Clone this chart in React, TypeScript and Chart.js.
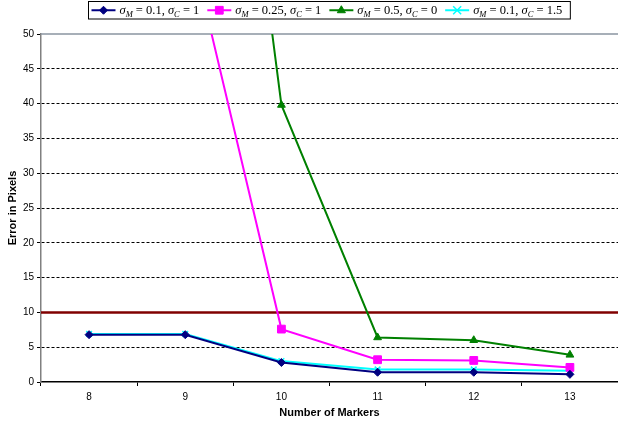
import React, { useEffect, useRef } from "react";
import { Chart, registerables } from "chart.js";

Chart.register(...registerables);

// ---- data ----
const markerCounts = ["8", "9", "10", "11", "12", "13"];
const errM01C1 = [6.8, 6.8, 2.8, 1.4, 1.4, 1.1];
const errM025C1 = [110, 66, 7.6, 3.2, 3.1, 2.1];
const errM05C0 = [230, 147, 39.8, 6.4, 6.0, 3.9];
const errM01C15 = [6.9, 6.9, 3.0, 1.8, 1.8, 1.6];
const sigmaM = [0.1, 0.25, 0.5, 0.1];
const sigmaC = [1, 1, 0, 1.5];
const threshold = 10;
const yMin = 0;
const yMax = 50;
const yStep = 5;

const colors = ["#000080", "#FF00FF", "#008000", "#00FFFF"];
const styles = ["rectRot", "rect", "triangle", "crossRot"];
const radii = [4, 5.5, 4.5, 4];

type Seg = [string, "i" | "s" | "n"];
const legendSegs = (i: number): Seg[] => [
  ["σ", "i"],
  ["M", "s"],
  [" = " + sigmaM[i] + ", ", "n"],
  ["σ", "i"],
  ["C", "s"],
  [" = " + sigmaC[i], "n"],
];

const SERIF = "'Liberation Serif', 'Times New Roman', serif";
const fontFor = (k: string) =>
  k === "i" ? `italic 12.5px ${SERIF}` : k === "s" ? `italic 8.5px ${SERIF}` : `12.5px ${SERIF}`;

function drawMarker(ctx: CanvasRenderingContext2D, style: string, x: number, y: number, r: number, color: string) {
  ctx.save();
  ctx.fillStyle = color;
  ctx.strokeStyle = color;
  ctx.lineWidth = 1;
  ctx.beginPath();
  if (style === "rectRot") {
    ctx.moveTo(x, y - r);
    ctx.lineTo(x + r, y);
    ctx.lineTo(x, y + r);
    ctx.lineTo(x - r, y);
    ctx.closePath();
    ctx.fill();
    ctx.stroke();
  } else if (style === "rect") {
    const s = r * Math.SQRT1_2;
    ctx.rect(x - s, y - s, 2 * s, 2 * s);
    ctx.fill();
    ctx.stroke();
  } else if (style === "triangle") {
    ctx.moveTo(x, y - r);
    ctx.lineTo(x + r * 0.9, y + r * 0.55);
    ctx.lineTo(x - r * 0.9, y + r * 0.55);
    ctx.closePath();
    ctx.fill();
    ctx.stroke();
  } else {
    ctx.lineWidth = 1.5;
    ctx.moveTo(x - r, y - r);
    ctx.lineTo(x + r, y + r);
    ctx.moveTo(x + r, y - r);
    ctx.lineTo(x - r, y + r);
    ctx.stroke();
  }
  ctx.restore();
}

const refLinesPlugin = {
  id: "refLines",
  beforeDatasetsDraw(chart: any) {
    const { ctx, chartArea } = chart;
    const y = chart.scales.y;
    ctx.save();
    const yTop = y.getPixelForValue(yMax);
    ctx.strokeStyle = "#8a94a0";
    ctx.lineWidth = 1.5;
    ctx.beginPath();
    ctx.moveTo(chartArea.left, yTop);
    ctx.lineTo(chartArea.right, yTop);
    ctx.stroke();
    const yT = y.getPixelForValue(threshold);
    ctx.strokeStyle = "#800000";
    ctx.lineWidth = 2.5;
    ctx.beginPath();
    ctx.moveTo(chartArea.left, yT);
    ctx.lineTo(chartArea.right, yT);
    ctx.stroke();
    ctx.restore();
  },
};

const legendPlugin = {
  id: "mathLegend",
  afterDraw(chart: any) {
    const { ctx, chartArea } = chart;
    ctx.save();
    const n = chart.data.datasets.length;
    const segWidths: number[][] = [];
    const textW: number[] = [];
    for (let i = 0; i < n; i++) {
      const ws: number[] = [];
      let t = 0;
      for (const [s, k] of legendSegs(i)) {
        ctx.font = fontFor(k);
        const w = ctx.measureText(s).width;
        ws.push(w);
        t += w;
      }
      segWidths.push(ws);
      textW.push(t);
    }
    const sampleW = 24, gapST = 4, gapItems = 8, padL = 3, padR = 8;
    let total = padL + padR + gapItems * (n - 1);
    for (let i = 0; i < n; i++) total += sampleW + gapST + textW[i];
    const cx = (chartArea.left + chartArea.right) / 2;
    const boxX = Math.round(cx - total / 2) - 0.5;
    const boxY = 1.5;
    const boxH = 17.5;
    ctx.fillStyle = "#ffffff";
    ctx.fillRect(boxX, boxY, total, boxH);
    ctx.strokeStyle = "#000000";
    ctx.lineWidth = 1;
    ctx.strokeRect(boxX, boxY, total, boxH);
    const midY = boxY + boxH / 2;
    let x = boxX + padL;
    for (let i = 0; i < n; i++) {
      const c = colors[i];
      ctx.strokeStyle = c;
      ctx.lineWidth = 2;
      ctx.beginPath();
      ctx.moveTo(x, midY);
      ctx.lineTo(x + sampleW, midY);
      ctx.stroke();
      drawMarker(ctx, styles[i], x + sampleW / 2, midY, radii[i], c);
      x += sampleW + gapST;
      const segs = legendSegs(i);
      ctx.fillStyle = "#000";
      ctx.textBaseline = "alphabetic";
      ctx.textAlign = "left";
      for (let j = 0; j < segs.length; j++) {
        const [s, k] = segs[j];
        ctx.font = fontFor(k);
        ctx.fillText(s, x, midY + 4 + (k === "s" ? 3 : 0));
        x += segWidths[i][j];
      }
      x += gapItems;
    }
    ctx.restore();
  },
};

export default function App() {
  const ref = useRef<HTMLCanvasElement | null>(null);
  useEffect(() => {
    if (!ref.current) return;
    const series = [errM01C1, errM025C1, errM05C0, errM01C15];
    const chart = new Chart(ref.current, {
      type: "line",
      data: {
        labels: markerCounts,
        datasets: series.map((d, i) => ({
          label: `sigmaM=${sigmaM[i]}, sigmaC=${sigmaC[i]}`,
          data: d,
          borderColor: colors[i],
          backgroundColor: colors[i],
          borderWidth: 2,
          pointStyle: styles[i] as any,
          pointRadius: radii[i],
          pointBorderWidth: i === 3 ? 1.5 : 1,
          pointBorderColor: colors[i],
          pointBackgroundColor: colors[i],
          tension: 0,
        })),
      },
      options: {
        animation: false,
        responsive: false,
        layout: { autoPadding: false, padding: { top: 34, right: -2, left: 0, bottom: 0 } },
        plugins: {
          legend: { display: false },
          tooltip: { enabled: false },
        },
        scales: {
          x: {
            type: "category",
            offset: true,
            grid: {
              display: true,
              offset: true,
              drawOnChartArea: false,
              drawTicks: true,
              tickLength: 4,
              tickColor: "#000",
            },
            border: { display: true, color: "#000", width: 1.5 },
            ticks: {
              color: "#000",
              font: { family: "'Liberation Sans', Arial, sans-serif", size: 10 },
              padding: 5,
            },
            title: {
              display: true,
              text: "Number of Markers",
              color: "#000",
              font: { family: "'Liberation Sans', Arial, sans-serif", size: 11, weight: "bold" },
              padding: { top: 0, bottom: 6 },
            },
            afterFit: (s: any) => {
              s.height = 44;
              s.paddingLeft = 0;
              s.paddingRight = 0;
            },
          },
          y: {
            min: yMin,
            max: yMax,
            grid: {
              color: (c: any) =>
                c.tick && (c.tick.value === yMin || c.tick.value === yMax) ? "rgba(0,0,0,0)" : "#000",
              lineWidth: 1,
              tickLength: 4,
              tickColor: "#000",
            },
            border: { display: true, color: "#808080", width: 1.5, dash: [3, 2] },
            ticks: {
              stepSize: yStep,
              color: "#000",
              font: { family: "'Liberation Sans', Arial, sans-serif", size: 10 },
              padding: 3,
            },
            title: {
              display: true,
              text: "Error in Pixels",
              color: "#000",
              font: { family: "'Liberation Sans', Arial, sans-serif", size: 11, weight: "bold" },
              padding: { top: 6, bottom: 0 },
            },
            afterFit: (s: any) => {
              s.width = 41;
              s.paddingTop = 0;
              s.paddingBottom = 0;
            },
          },
        },
      },
      plugins: [refLinesPlugin, legendPlugin],
    });
    return () => chart.destroy();
  }, []);
  return (
    <div style={{ position: "absolute", left: 0, top: 0, width: 618, height: 426, background: "#fff" }}>
      <canvas ref={ref} width={618} height={426} style={{ display: "block", width: 618, height: 426 }} />
    </div>
  );
}
